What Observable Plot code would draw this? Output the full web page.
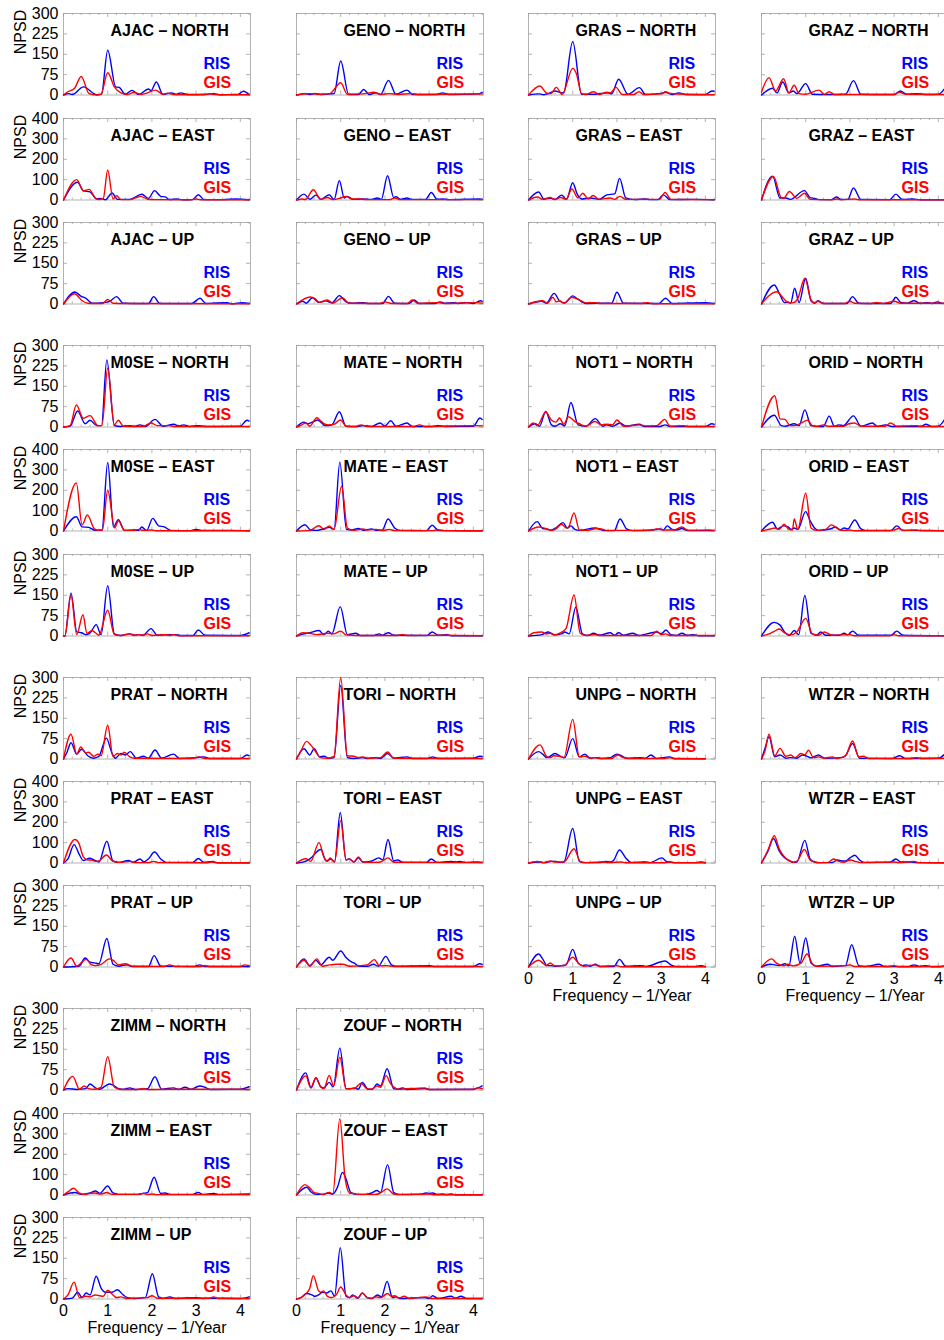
<!DOCTYPE html>
<html><head><meta charset="utf-8">
<script src="https://cdn.jsdelivr.net/npm/d3@7"></script>
<script src="https://cdn.jsdelivr.net/npm/@observablehq/plot@0.6"></script>
<style>
body{margin:0;background:#fff;}
#chart{position:relative;width:944px;height:1340px;overflow:hidden;background:#fff;font-family:'Liberation Sans',Arial,sans-serif;}
#chart svg{position:absolute;}
</style></head><body><div id="chart"></div>
<script>
// ---------- axis / category data ----------
const freqMax = 4.23;
const xMajor = [0, 1, 2, 3, 4];
const xMinor = [0.2, 0.4, 0.6, 0.8, 1.2, 1.4, 1.6, 1.8, 2.2, 2.4, 2.6, 2.8, 3.2, 3.4, 3.6, 3.8, 4.2];
const yTicksNU = [0, 75, 150, 225, 300];
const yTicksEast = [0, 100, 200, 300, 400];
const stationGroups = [["AJAC", "GENO", "GRAS", "GRAZ"], ["M0SE", "MATE", "NOT1", "ORID"], ["PRAT", "TORI", "UNPG", "WTZR"], ["ZIMM", "ZOUF"]];
const components = ["NORTH", "EAST", "UP"];
const seriesNames = ["RIS", "GIS"];
const seriesColors = ["#0000ff", "#ff0000"];

// ---------- spectra: [frequency (1/yr), NPSD] ----------
const AJAC_NORTH_RIS = [[0,0],[0.12,5],[0.2,2],[0.45,30],[0.75,1],[0.86,3],[1.0,165],[1.18,30],[1.26,28],[1.4,3],[1.55,17],[1.7,2],[1.92,22],[1.98,16],[2.1,48],[2.25,2],[2.45,8],[2.55,2],[2.65,8],[2.8,2],[3.25,3],[3.4,5],[3.55,1],[3.85,2],[3.95,2],[4.07,14],[4.2,1]];
const AJAC_NORTH_GIS = [[0,0],[0.1,12],[0.25,25],[0.4,68],[0.58,5],[0.75,0],[0.85,3],[1.0,82],[1.15,30],[1.3,8],[1.45,2],[1.6,10],[1.75,2],[1.9,8],[2.08,18],[2.25,3],[2.35,7],[2.5,2],[3.18,1],[3.3,4],[3.5,1],[4.2,1]];
const AJAC_EAST_RIS = [[0,0],[0.32,87],[0.45,45],[0.6,40],[0.75,5],[0.85,8],[0.95,1],[1.1,34],[1.22,3],[1.5,3],[1.77,28],[1.92,8],[2.06,46],[2.2,18],[2.3,15],[2.4,2],[2.55,5],[2.7,1],[2.92,2],[3.05,26],[3.18,2],[3.6,2],[3.9,5],[4.2,1]];
const AJAC_EAST_GIS = [[0,0],[0.3,100],[0.45,45],[0.58,52],[0.72,10],[0.8,2],[0.9,8],[1.0,147],[1.12,5],[1.2,21],[1.3,2],[1.5,2],[1.75,18],[1.9,4],[2.1,2],[2.88,1],[3.0,5],[3.1,1],[4.2,1]];
const AJAC_UP_RIS = [[0,0],[0.26,44],[0.4,28],[0.5,22],[0.65,3],[0.9,5],[1.05,10],[1.2,27],[1.35,3],[1.8,2],[1.92,2],[2.04,27],[2.18,2],[2.9,2],[3.09,21],[3.22,2],[3.7,5],[3.8,1],[4.05,5],[4.2,2]];
const AJAC_UP_GIS = [[0,0],[0.25,38],[0.42,12],[0.55,3],[0.7,2],[0.88,2],[1.0,17],[1.12,3],[1.4,2],[4.2,1]];

const GENO_NORTH_RIS = [[0,0],[0.2,5],[0.3,2],[0.42,5],[0.55,2],[0.85,5],[1.0,125],[1.18,2],[1.4,2],[1.52,20],[1.65,2],[1.8,8],[1.9,2],[2.08,54],[2.25,3],[2.5,18],[2.62,2],[3.18,2],[3.3,8],[3.45,2],[4.1,4],[4.2,10]];
const GENO_NORTH_GIS = [[0,0],[0.3,5],[0.5,3],[0.75,5],[1.0,45],[1.15,3],[1.5,4],[1.75,10],[1.9,2],[2.1,5],[2.3,2],[2.6,5],[2.75,2],[4.2,4]];
const GENO_EAST_RIS = [[0,0],[0.17,29],[0.3,4],[0.44,24],[0.55,3],[0.74,26],[0.85,3],[0.97,95],[1.08,10],[1.15,18],[1.28,3],[1.5,5],[1.7,3],[1.83,10],[1.92,4],[2.06,119],[2.2,12],[2.25,16],[2.35,4],[2.5,10],[2.6,3],[2.92,3],[3.05,37],[3.18,4],[3.3,5],[3.45,2],[4.15,5],[4.2,3]];
const GENO_EAST_GIS = [[0,0],[0.12,5],[0.2,2],[0.38,50],[0.55,3],[0.7,12],[0.82,2],[1.0,10],[1.12,18],[1.25,5],[1.4,5],[1.6,2],[2.1,2],[2.22,10],[2.35,2],[4.2,2]];
const GENO_UP_RIS = [[0,0],[0.14,10],[0.22,3],[0.36,23],[0.5,6],[0.66,12],[0.8,4],[0.97,31],[1.12,8],[1.25,3],[1.5,5],[1.6,2],[1.95,2],[2.08,28],[2.22,3],[2.54,2],[2.66,15],[2.78,2],[3.13,2],[3.25,8],[3.35,3],[3.55,5],[3.65,2],[3.85,5],[4.0,2],[4.17,12],[4.2,10]];
const GENO_UP_GIS = [[0,0],[0.31,26],[0.42,20],[0.52,6],[0.7,15],[0.82,3],[1.04,23],[1.18,3],[1.88,2],[2.0,8],[2.15,2],[2.5,2],[2.62,15],[2.75,2],[3.2,5],[3.35,2],[4.1,5],[4.2,3]];

const GRAS_NORTH_RIS = [[0,0],[0.25,4],[0.35,1],[0.45,5],[0.6,15],[0.75,8],[0.8,10],[1.0,197],[1.2,3],[1.5,3],[1.8,8],[1.88,4],[2.04,58],[2.25,3],[2.51,27],[2.65,2],[3.0,6],[3.1,10],[3.25,2],[3.4,8],[3.55,2],[4.0,2],[4.15,15],[4.2,14]];
const GRAS_NORTH_GIS = [[0,0],[0.26,33],[0.4,8],[0.5,5],[0.63,28],[0.76,2],[1.0,98],[1.08,80],[1.2,5],[1.3,2],[1.47,12],[1.6,2],[1.77,10],[1.85,8],[1.98,28],[2.12,2],[2.38,2],[2.5,12],[2.6,2],[3.0,4],[3.1,12],[3.2,6],[3.5,3],[4.2,1]];
const GRAS_EAST_RIS = [[0,0],[0.23,39],[0.35,5],[0.5,8],[0.6,3],[0.75,24],[0.86,3],[1.0,85],[1.1,30],[1.2,5],[1.4,10],[1.6,3],[1.77,25],[1.95,30],[2.06,106],[2.2,10],[2.4,2],[2.65,5],[2.75,2],[2.93,2],[3.05,25],[3.2,2],[3.7,3],[4.2,1]];
const GRAS_EAST_GIS = [[0,0],[0.2,15],[0.32,3],[0.49,12],[0.6,2],[0.72,12],[0.85,3],[0.98,54],[1.12,10],[1.23,33],[1.35,5],[1.46,22],[1.6,3],[1.85,10],[1.95,3],[2.07,18],[2.2,3],[2.96,3],[3.09,37],[3.22,3],[4.2,2]];
const GRAS_UP_RIS = [[0,0],[0.3,10],[0.4,3],[0.58,39],[0.7,12],[0.82,4],[1.0,30],[1.1,20],[1.3,2],[1.8,3],[1.88,3],[2.0,43],[2.15,3],[2.95,2],[3.1,21],[3.25,2],[4.0,5],[4.2,2]];
const GRAS_UP_GIS = [[0,0],[0.32,12],[0.43,3],[0.55,25],[0.63,8],[0.7,12],[0.8,3],[0.98,25],[1.15,15],[1.3,4],[1.5,5],[1.6,2],[2.58,2],[2.7,5],[2.8,1],[4.2,1]];

const GRAZ_NORTH_RIS = [[0,0],[0.25,25],[0.35,8],[0.48,48],[0.62,8],[0.72,15],[0.8,5],[1.0,42],[1.15,3],[1.5,2],[1.9,3],[2.08,53],[2.25,3],[2.7,2],[3.0,2],[3.14,15],[3.28,3],[3.5,5],[3.7,2],[4.0,3],[4.2,38]];
const GRAZ_NORTH_GIS = [[0,10],[0.17,64],[0.32,15],[0.5,60],[0.62,8],[0.74,36],[0.85,5],[1.0,3],[1.3,18],[1.42,2],[1.53,12],[1.65,2],[2.5,2],[3.0,2],[3.12,10],[3.25,3],[4.2,2]];
const GRAZ_EAST_RIS = [[0,0],[0.25,117],[0.42,10],[0.55,10],[0.65,3],[0.97,46],[1.1,12],[1.2,8],[1.3,2],[1.58,2],[1.7,15],[1.8,3],[1.95,3],[2.08,59],[2.25,3],[2.9,2],[3.04,29],[3.18,3],[3.42,5],[3.6,1],[4.2,1]];
const GRAZ_EAST_GIS = [[0,0],[0.27,115],[0.45,10],[0.5,8],[0.63,42],[0.8,8],[0.97,33],[1.1,3],[1.6,1],[1.7,5],[1.8,1],[2.1,5],[2.2,1],[4.2,1]];
const GRAZ_UP_RIS = [[0,0],[0.29,70],[0.4,40],[0.52,5],[0.6,8],[0.66,3],[0.75,58],[0.85,5],[1.0,95],[1.12,12],[1.2,3],[1.28,12],[1.4,2],[1.93,2],[2.06,27],[2.2,3],[2.6,2],[2.92,2],[3.04,25],[3.15,6],[3.3,3],[3.45,12],[3.6,2],[3.75,5],[3.85,2],[3.98,8],[4.1,2],[4.2,5]];
const GRAZ_UP_GIS = [[0,0],[0.35,45],[0.5,20],[0.62,4],[0.72,5],[0.82,20],[0.98,95],[1.12,15],[1.2,4],[1.27,10],[1.4,2],[1.88,2],[2.0,10],[2.1,3],[2.48,2],[2.6,5],[2.75,2],[3.0,10],[3.15,3],[4.2,3]];

const M0SE_NORTH_RIS = [[0,0],[0.15,3],[0.32,59],[0.49,12],[0.6,25],[0.75,5],[0.86,5],[0.98,247],[1.15,5],[1.3,2],[1.5,5],[1.6,2],[1.73,8],[1.85,2],[2.07,28],[2.25,3],[2.5,10],[2.6,4],[2.72,8],[2.85,2],[3.05,5],[3.2,2],[4.0,3],[4.15,25],[4.2,22]];
const M0SE_NORTH_GIS = [[0,0],[0.15,5],[0.29,81],[0.45,32],[0.6,42],[0.78,5],[0.87,5],[1.0,216],[1.15,8],[1.24,25],[1.35,3],[1.8,2],[1.98,15],[2.12,5],[2.4,5],[2.5,2],[4.2,2]];
const M0SE_EAST_RIS = [[0,0],[0.29,70],[0.42,20],[0.57,18],[0.72,3],[0.87,5],[1.0,336],[1.13,20],[1.24,56],[1.38,3],[1.6,5],[1.7,3],[1.77,20],[1.88,3],[2.02,62],[2.15,25],[2.28,20],[2.42,3],[2.88,2],[3.0,8],[3.12,3],[3.8,3],[4.2,1]];
const M0SE_EAST_GIS = [[0,0],[0.29,236],[0.42,30],[0.54,79],[0.7,10],[0.8,3],[0.88,5],[1.0,200],[1.16,15],[1.24,50],[1.38,3],[1.58,3],[1.7,8],[1.8,3],[2.0,5],[2.1,1],[4.2,1]];
const M0SE_UP_RIS = [[0,0],[0.03,0],[0.17,158],[0.3,15],[0.41,12],[0.5,5],[0.57,8],[0.62,15],[0.74,42],[0.85,5],[1.0,185],[1.15,8],[1.3,2],[1.5,8],[1.6,3],[1.7,5],[1.8,3],[1.98,27],[2.12,3],[2.5,5],[2.65,2],[2.93,2],[3.05,22],[3.2,3],[4.0,2],[4.2,12]];
const M0SE_UP_GIS = [[0,0],[0.03,0],[0.17,150],[0.3,5],[0.44,78],[0.53,10],[0.64,20],[0.72,12],[0.8,3],[1.0,95],[1.15,5],[1.3,2],[1.5,8],[1.6,2],[1.7,5],[1.8,2],[1.9,8],[2.0,2],[2.3,5],[2.4,2],[2.5,5],[2.6,1],[4.2,1]];

const MATE_NORTH_RIS = [[0,0],[0.17,18],[0.25,12],[0.32,15],[0.48,26],[0.65,5],[0.8,8],[0.97,56],[1.12,3],[1.38,2],[1.5,5],[1.7,2],[1.89,15],[2.0,3],[2.13,23],[2.25,3],[2.5,15],[2.62,2],[3.08,2],[3.2,5],[3.35,2],[4.0,3],[4.15,33],[4.2,28]];
const MATE_NORTH_GIS = [[0,0],[0.12,8],[0.21,15],[0.3,3],[0.46,34],[0.55,22],[0.65,10],[0.72,8],[0.85,10],[1.0,26],[1.12,3],[1.34,2],[1.46,8],[1.6,2],[2.66,2],[2.78,8],[2.9,2],[4.1,5],[4.2,4]];
const MATE_EAST_RIS = [[0,0],[0.19,31],[0.32,5],[0.45,3],[0.6,10],[0.74,18],[0.85,8],[0.98,338],[1.13,8],[1.25,5],[1.4,12],[1.52,4],[1.7,10],[1.8,4],[1.94,4],[2.07,59],[2.22,15],[2.35,3],[2.94,2],[3.07,28],[3.2,4],[3.35,2],[4.2,1]];
const MATE_EAST_GIS = [[0,0],[0.3,3],[0.51,26],[0.62,8],[0.74,25],[0.85,8],[1.02,220],[1.15,15],[1.3,3],[1.5,10],[1.6,5],[1.8,8],[1.95,2],[2.1,8],[2.22,2],[3.08,2],[3.2,5],[3.35,2],[4.2,1]];
const MATE_UP_RIS = [[0,0],[0.1,5],[0.3,12],[0.51,20],[0.62,5],[0.72,18],[0.8,8],[0.99,108],[1.15,5],[1.34,10],[1.45,2],[1.75,2],[1.87,8],[1.95,3],[2.08,12],[2.2,3],[2.95,2],[3.07,15],[3.2,3],[3.4,5],[3.5,1],[4.2,1]];
const MATE_UP_GIS = [[0,0],[0.15,12],[0.3,10],[0.45,5],[0.7,10],[0.85,8],[1.0,18],[1.12,4],[1.4,2],[2.28,2],[2.4,5],[2.5,2],[3.4,3],[4.2,1]];

const NOT1_NORTH_RIS = [[0,0],[0.15,12],[0.25,3],[0.39,57],[0.52,8],[0.6,3],[0.72,12],[0.82,4],[0.96,90],[1.12,8],[1.3,3],[1.51,31],[1.68,3],[1.77,8],[1.9,3],[2.07,15],[2.2,3],[2.51,10],[2.62,2],[2.97,2],[3.09,8],[3.2,2],[4.0,2],[4.15,12],[4.2,10]];
const NOT1_NORTH_GIS = [[0,0],[0.11,15],[0.2,5],[0.39,55],[0.52,25],[0.62,18],[0.7,33],[0.8,10],[0.9,38],[1.05,20],[1.15,12],[1.3,3],[1.5,20],[1.65,8],[1.77,10],[1.9,8],[2.0,26],[2.15,3],[2.51,8],[2.65,4],[2.9,5],[3.08,28],[3.2,3],[3.5,5],[3.6,2],[4.2,2]];
const NOT1_EAST_RIS = [[0,0],[0.2,46],[0.32,12],[0.42,10],[0.5,4],[0.62,15],[0.78,41],[0.88,15],[0.96,25],[1.05,8],[1.15,3],[1.51,15],[1.62,8],[1.75,2],[1.94,2],[2.07,59],[2.22,10],[2.35,2],[2.8,5],[2.98,10],[3.05,5],[3.14,25],[3.25,8],[3.35,5],[3.47,12],[3.6,2],[4.2,2]];
const NOT1_EAST_GIS = [[0,0],[0.23,20],[0.3,18],[0.42,10],[0.52,3],[0.62,10],[0.75,33],[0.85,15],[0.9,18],[1.03,89],[1.15,5],[1.3,3],[1.55,12],[1.65,10],[1.75,3],[2.0,3],[2.78,3],[2.9,10],[3.0,7],[3.1,5],[3.3,5],[3.47,20],[3.6,4],[4.1,5],[4.2,3]];
const NOT1_UP_RIS = [[0,0],[0.3,5],[0.45,15],[0.58,4],[0.75,8],[0.82,15],[0.92,8],[1.07,106],[1.22,8],[1.35,2],[1.47,10],[1.6,3],[1.85,12],[1.95,3],[2.04,12],[2.15,3],[2.36,10],[2.5,2],[2.9,15],[3.0,8],[3.11,22],[3.22,5],[3.35,2],[3.47,10],[3.6,2],[3.73,5],[3.85,1],[4.2,1]];
const NOT1_UP_GIS = [[0,0],[0.12,12],[0.3,15],[0.4,8],[0.49,10],[0.6,4],[0.72,12],[0.85,28],[1.03,151],[1.17,10],[1.3,2],[1.5,5],[1.6,2],[2.78,2],[2.9,18],[3.0,5],[3.1,8],[3.2,2],[4.2,2]];

const ORID_NORTH_RIS = [[0,0],[0.29,43],[0.45,5],[0.55,3],[0.74,12],[0.85,5],[0.98,63],[1.12,5],[1.3,2],[1.4,2],[1.53,40],[1.65,3],[1.74,8],[1.85,5],[2.08,41],[2.25,3],[2.51,15],[2.62,2],[2.8,8],[2.95,2],[3.6,2],[3.72,10],[3.85,2],[4.0,3],[4.2,45]];
const ORID_NORTH_GIS = [[0,0],[0.3,115],[0.42,30],[0.53,28],[0.65,5],[0.75,5],[0.9,15],[1.04,25],[1.15,5],[1.25,2],[1.4,8],[1.5,3],[1.86,3],[1.98,12],[2.1,15],[2.25,3],[2.8,3],[2.92,15],[3.05,3],[3.5,5],[3.6,2],[4.2,2]];
const ORID_EAST_RIS = [[0,0],[0.25,43],[0.36,10],[0.5,25],[0.6,20],[0.67,8],[0.74,15],[0.82,8],[1.0,95],[1.1,50],[1.2,15],[1.3,3],[1.55,10],[1.68,20],[1.78,5],[1.87,15],[1.95,10],[2.11,54],[2.25,10],[2.35,3],[2.93,3],[3.06,25],[3.2,3],[3.8,3],[4.2,1]];
const ORID_EAST_GIS = [[0,0],[0.2,10],[0.3,15],[0.4,8],[0.51,33],[0.62,8],[0.7,5],[0.74,59],[0.82,8],[1.0,185],[1.12,15],[1.25,3],[1.45,8],[1.58,30],[1.72,12],[1.82,3],[2.0,5],[2.1,1],[2.9,1],[3.0,5],[3.1,12],[3.2,3],[3.5,5],[3.6,1],[4.2,1]];
const ORID_UP_RIS = [[0,0],[0.29,50],[0.42,40],[0.52,15],[0.63,3],[0.74,20],[0.84,5],[0.98,149],[1.12,10],[1.25,3],[1.34,15],[1.45,3],[1.76,3],[1.87,10],[1.95,4],[2.06,18],[2.2,3],[2.93,3],[3.06,18],[3.2,3],[4.2,1]];
const ORID_UP_GIS = [[0,0],[0.2,10],[0.3,18],[0.4,26],[0.52,12],[0.65,4],[0.8,15],[1.0,65],[1.15,8],[1.3,3],[1.42,15],[1.5,10],[1.6,3],[2.0,5],[2.1,1],[2.9,1],[3.0,5],[3.1,1],[4.2,1]];

const PRAT_NORTH_RIS = [[0,0],[0.08,25],[0.17,60],[0.3,18],[0.41,36],[0.55,12],[0.68,3],[0.8,10],[0.97,77],[1.1,20],[1.17,3],[1.3,20],[1.4,15],[1.51,27],[1.65,3],[1.81,10],[1.92,3],[2.07,33],[2.22,3],[2.49,18],[2.62,2],[3.0,5],[3.17,8],[3.3,2],[4.0,2],[4.15,15],[4.2,12]];
const PRAT_NORTH_GIS = [[0,0],[0.17,91],[0.3,18],[0.39,44],[0.5,22],[0.57,25],[0.68,10],[0.78,18],[0.85,12],[1.0,124],[1.12,10],[1.22,20],[1.3,15],[1.37,25],[1.5,8],[1.6,3],[2.88,2],[3.0,5],[3.05,8],[3.2,2],[4.2,2]];
const PRAT_EAST_RIS = [[0,0],[0.1,20],[0.24,90],[0.35,45],[0.45,12],[0.59,23],[0.7,14],[0.8,5],[0.98,107],[1.12,10],[1.25,3],[1.47,12],[1.58,3],[1.73,20],[1.82,5],[1.92,20],[2.06,54],[2.2,20],[2.32,3],[2.92,3],[3.05,22],[3.18,3],[3.36,8],[3.5,1],[4.2,1]];
const PRAT_EAST_GIS = [[0,0],[0.26,115],[0.35,95],[0.45,30],[0.55,15],[0.62,15],[0.72,8],[0.8,10],[0.97,39],[1.12,8],[1.25,3],[1.51,8],[1.62,2],[1.92,2],[2.04,8],[2.15,2],[3.25,1],[3.36,5],[3.45,1],[4.2,1]];
const PRAT_UP_RIS = [[0,0],[0.35,3],[0.49,33],[0.6,18],[0.7,15],[0.8,12],[0.98,105],[1.12,10],[1.25,3],[1.42,8],[1.55,2],[1.92,2],[2.05,42],[2.2,3],[2.96,2],[3.08,8],[3.2,2],[4.2,2]];
const PRAT_UP_GIS = [[0,0],[0.17,33],[0.3,3],[0.4,15],[0.51,28],[0.62,10],[0.72,5],[0.85,10],[1.04,30],[1.12,25],[1.25,8],[1.4,12],[1.55,3],[2.28,2],[2.4,8],[2.52,2],[3.1,2],[3.2,5],[3.3,2],[4.0,2],[4.1,8],[4.2,5]];

const TORI_NORTH_RIS = [[0,0],[0.17,38],[0.3,15],[0.4,38],[0.52,8],[0.63,10],[0.72,3],[0.85,5],[1.0,271],[1.15,5],[1.3,2],[1.5,5],[1.6,2],[1.8,5],[1.9,2],[2.06,20],[2.2,3],[2.5,8],[2.62,2],[2.96,2],[3.08,8],[3.2,2],[4.0,3],[4.15,10],[4.2,9]];
const TORI_NORTH_GIS = [[0,0],[0.1,30],[0.23,65],[0.32,52],[0.4,35],[0.55,5],[0.7,3],[0.85,10],[1.0,300],[1.15,12],[1.3,10],[1.4,5],[1.5,8],[1.6,3],[1.9,5],[2.06,26],[2.2,3],[4.2,2]];
const TORI_EAST_RIS = [[0,0],[0.2,8],[0.3,20],[0.55,66],[0.67,10],[0.78,20],[0.86,5],[0.99,248],[1.12,15],[1.19,20],[1.3,5],[1.4,25],[1.5,5],[1.6,5],[1.7,10],[1.86,25],[1.95,15],[2.07,115],[2.2,10],[2.29,15],[2.4,3],[2.93,3],[3.05,20],[3.18,3],[3.5,8],[3.6,5],[3.7,8],[3.8,3],[4.1,5],[4.2,3]];
const TORI_EAST_GIS = [[0,0],[0.21,21],[0.32,8],[0.51,100],[0.62,30],[0.7,8],[0.76,25],[0.86,5],[1.0,208],[1.12,15],[1.2,20],[1.3,5],[1.4,30],[1.5,5],[1.8,3],[1.9,5],[2.07,25],[2.2,4],[4.2,2]];
const TORI_UP_RIS = [[0,0],[0.17,30],[0.3,5],[0.44,25],[0.55,8],[0.74,36],[0.82,25],[1.0,59],[1.12,35],[1.25,18],[1.3,15],[1.42,3],[1.62,3],[1.74,10],[1.85,3],[2.02,39],[2.15,8],[2.25,3],[3.0,5],[3.1,2],[4.0,2],[4.15,12],[4.2,10]];
const TORI_UP_GIS = [[0,0],[0.17,25],[0.3,3],[0.46,30],[0.58,3],[0.75,8],[0.9,10],[1.05,10],[1.2,3],[1.6,8],[1.76,27],[1.88,4],[2.05,5],[2.2,2],[4.2,2]];

const UNPG_NORTH_RIS = [[0,0],[0.23,27],[0.32,18],[0.42,5],[0.6,20],[0.75,8],[0.82,5],[1.0,75],[1.15,8],[1.27,18],[1.4,3],[1.52,5],[1.65,2],[1.85,5],[2.0,18],[2.1,12],[2.22,3],[2.53,5],[2.63,2],[2.77,15],[2.9,2],[3.19,8],[3.3,2],[4.0,1]];
const UNPG_NORTH_GIS = [[0,0],[0.26,52],[0.42,8],[0.5,5],[0.57,12],[0.7,10],[0.8,5],[1.0,146],[1.15,8],[1.27,10],[1.4,3],[1.51,5],[1.6,2],[1.88,2],[2.01,15],[2.15,5],[2.25,2],[3.08,2],[3.2,5],[3.3,1],[4.0,1]];
const UNPG_EAST_RIS = [[0,0],[0.2,5],[0.35,2],[0.52,8],[0.62,8],[0.7,3],[0.8,5],[1.0,169],[1.15,8],[1.3,2],[1.6,2],[1.73,8],[1.85,5],[1.92,12],[2.06,64],[2.2,25],[2.32,3],[2.64,5],[2.75,2],[3.02,25],[3.12,8],[3.2,5],[3.3,2],[3.8,2],[3.9,5],[4.0,1]];
const UNPG_EAST_GIS = [[0,0],[0.2,8],[0.35,2],[0.5,10],[0.6,5],[0.8,5],[1.03,70],[1.18,5],[1.3,2],[1.7,5],[1.8,2],[2.1,5],[2.2,1],[3.08,1],[3.2,5],[3.3,1],[4.0,1]];
const UNPG_UP_RIS = [[0,0],[0.23,48],[0.32,30],[0.42,5],[0.5,5],[0.6,3],[0.75,5],[0.85,8],[1.0,65],[1.12,15],[1.22,5],[1.3,8],[1.4,3],[1.51,10],[1.62,2],[1.93,2],[2.06,28],[2.2,3],[2.53,5],[2.65,2],[3.09,22],[3.22,8],[3.35,2],[3.8,2],[3.9,5],[4.0,1]];
const UNPG_UP_GIS = [[0,0],[0.23,25],[0.32,15],[0.4,5],[0.49,15],[0.6,4],[0.8,5],[1.0,36],[1.15,10],[1.25,3],[1.5,8],[1.62,2],[2.0,5],[2.1,1],[4.0,1]];

const WTZR_NORTH_RIS = [[0,0],[0.08,40],[0.17,82],[0.3,8],[0.42,15],[0.55,3],[0.66,5],[0.8,3],[0.93,15],[1.0,12],[1.12,4],[1.29,15],[1.42,3],[1.8,5],[1.9,12],[2.06,57],[2.22,3],[2.95,2],[3.13,12],[3.25,2],[4.0,3],[4.2,28]];
const WTZR_NORTH_GIS = [[0,0],[0.08,30],[0.17,91],[0.3,12],[0.42,39],[0.55,10],[0.66,15],[0.76,5],[0.89,20],[0.98,15],[1.06,32],[1.18,5],[1.3,8],[1.42,3],[1.6,8],[1.7,2],[1.9,12],[2.06,66],[2.2,8],[2.31,10],[2.42,2],[3.38,2],[3.5,5],[3.6,2],[4.2,3]];
const WTZR_EAST_RIS = [[0,0],[0.15,60],[0.27,120],[0.4,60],[0.5,30],[0.6,15],[0.72,4],[0.8,5],[0.98,111],[1.1,20],[1.2,5],[1.3,2],[1.6,2],[1.72,15],[1.82,10],[1.9,10],[2.0,25],[2.11,38],[2.22,15],[2.32,3],[2.9,3],[3.04,20],[3.15,5],[3.4,5],[3.5,2],[4.2,1]];
const WTZR_EAST_GIS = [[0,0],[0.15,65],[0.29,134],[0.4,70],[0.5,35],[0.6,15],[0.72,4],[0.8,8],[0.97,66],[1.1,15],[1.2,5],[1.3,2],[1.5,3],[1.63,20],[1.72,10],[1.85,3],[2.02,15],[2.12,8],[2.25,2],[3.0,5],[3.1,2],[3.45,8],[3.55,2],[4.2,1]];
const WTZR_UP_RIS = [[0,0],[0.2,10],[0.3,8],[0.4,5],[0.53,12],[0.62,4],[0.75,113],[0.87,15],[1.0,107],[1.12,15],[1.25,3],[1.49,10],[1.6,2],[1.9,5],[2.04,82],[2.2,5],[2.35,2],[2.66,10],[2.78,2],[3.33,2],[3.45,8],[3.58,2],[3.72,5],[3.85,1],[4.05,1],[4.2,8]];
const WTZR_UP_GIS = [[0,0],[0.23,30],[0.33,15],[0.42,8],[0.52,5],[0.6,10],[0.72,4],[0.9,15],[1.03,48],[1.15,12],[1.25,3],[1.9,5],[2.0,8],[2.1,2],[2.88,2],[3.0,5],[3.1,1],[4.2,3]];

const ZIMM_NORTH_RIS = [[0,0],[0.1,5],[0.3,2],[0.5,5],[0.6,22],[0.72,8],[0.82,3],[0.95,15],[1.04,22],[1.12,18],[1.25,5],[1.38,3],[1.5,8],[1.62,2],[1.9,5],[2.07,49],[2.22,3],[2.49,8],[2.6,2],[2.75,10],[2.88,3],[3.08,15],[3.2,10],[3.32,2],[4.0,3],[4.2,12]];
const ZIMM_NORTH_GIS = [[0,0],[0.21,50],[0.36,3],[0.47,15],[0.56,5],[0.7,3],[0.85,10],[1.0,123],[1.15,10],[1.3,2],[1.68,2],[1.8,5],[1.9,2],[3.0,3],[4.2,2]];
const ZIMM_EAST_RIS = [[0,0],[0.26,12],[0.4,3],[0.5,5],[0.6,10],[0.72,20],[0.82,8],[1.0,44],[1.12,10],[1.25,3],[1.68,3],[1.8,8],[1.9,12],[2.05,87],[2.2,8],[2.3,10],[2.4,3],[2.92,3],[3.05,12],[3.15,3],[3.4,8],[3.5,3],[4.2,5]];
const ZIMM_EAST_GIS = [[0,0],[0.1,15],[0.23,33],[0.35,10],[0.45,3],[0.6,8],[0.7,10],[0.85,5],[0.98,12],[1.1,3],[1.68,3],[1.8,8],[1.9,3],[2.0,5],[2.1,2],[4.2,2]];
const ZIMM_UP_RIS = [[0,0],[0.2,3],[0.32,25],[0.42,5],[0.51,22],[0.6,15],[0.74,84],[0.85,40],[0.95,25],[1.1,25],[1.22,34],[1.35,15],[1.45,5],[1.6,2],[1.85,5],[2.01,93],[2.15,8],[2.25,2],[2.41,8],[2.52,2],[3.0,5],[3.15,2],[3.3,3],[4.0,2],[4.2,8]];
const ZIMM_UP_GIS = [[0,0],[0.1,15],[0.24,62],[0.36,5],[0.5,10],[0.6,8],[0.72,15],[0.82,12],[0.9,10],[1.0,32],[1.12,15],[1.2,5],[1.3,8],[1.42,2],[1.9,5],[2.0,12],[2.12,3],[3.3,3],[3.39,8],[3.5,2],[4.2,2]];

const ZOUF_NORTH_RIS = [[0,0],[0.21,63],[0.33,8],[0.44,44],[0.55,12],[0.62,8],[0.74,28],[0.83,12],[0.98,154],[1.12,5],[1.2,4],[1.3,8],[1.4,3],[1.49,28],[1.62,3],[1.72,3],[1.82,22],[1.9,15],[2.05,78],[2.2,5],[2.3,3],[2.4,8],[2.5,2],[2.9,5],[3.0,2],[4.0,3],[4.2,15]];
const ZOUF_NORTH_GIS = [[0,0],[0.21,52],[0.32,8],[0.44,45],[0.55,10],[0.62,5],[0.74,54],[0.84,15],[0.98,121],[1.12,5],[1.3,5],[1.46,25],[1.6,4],[1.7,3],[1.82,15],[1.9,10],[2.03,53],[2.12,25],[2.21,10],[2.3,3],[2.9,8],[3.0,2],[4.0,2],[4.1,8],[4.2,5]];
const ZOUF_EAST_RIS = [[0,0],[0.23,38],[0.33,15],[0.45,3],[0.6,3],[0.72,10],[0.82,5],[0.93,40],[1.04,111],[1.12,80],[1.22,15],[1.35,3],[1.58,3],[1.7,10],[1.82,22],[1.9,12],[2.06,149],[2.2,12],[2.32,3],[2.8,3],[2.93,10],[3.0,8],[3.08,10],[3.18,3],[3.3,5],[3.4,2],[3.5,5],[3.6,1],[4.2,1]];
const ZOUF_EAST_GIS = [[0,0],[0.19,51],[0.3,35],[0.4,12],[0.5,8],[0.6,3],[0.74,12],[0.82,5],[0.98,375],[1.1,80],[1.2,10],[1.3,8],[1.4,3],[1.8,3],[1.9,10],[2.05,30],[2.2,5],[2.35,2],[3.0,5],[3.1,1],[4.2,1]];
const ZOUF_UP_RIS = [[0,0],[0.1,5],[0.23,20],[0.35,15],[0.42,10],[0.5,15],[0.59,25],[0.68,22],[0.78,30],[0.86,10],[0.99,189],[1.12,10],[1.2,5],[1.27,15],[1.38,3],[1.49,22],[1.6,5],[1.7,2],[1.83,15],[1.92,8],[2.05,65],[2.17,5],[2.25,8],[2.35,2],[2.9,5],[3.0,2],[3.08,12],[3.2,2],[3.5,10],[3.6,3],[3.72,10],[3.85,2],[4.2,2]];
const ZOUF_UP_GIS = [[0,0],[0.1,5],[0.22,20],[0.3,40],[0.38,86],[0.5,30],[0.55,25],[0.61,30],[0.7,10],[0.8,5],[0.9,15],[1.0,44],[1.12,15],[1.2,5],[1.3,12],[1.4,4],[1.49,22],[1.6,5],[1.7,3],[1.8,8],[1.9,5],[2.06,20],[2.15,10],[2.22,12],[2.32,4],[2.44,10],[2.55,2],[2.93,8],[3.05,2],[4.2,2]];

// lookup table built from the named arrays
const series = {
  AJAC_NORTH_RIS, AJAC_NORTH_GIS, AJAC_EAST_RIS, AJAC_EAST_GIS, AJAC_UP_RIS, AJAC_UP_GIS,
  GENO_NORTH_RIS, GENO_NORTH_GIS, GENO_EAST_RIS, GENO_EAST_GIS, GENO_UP_RIS, GENO_UP_GIS,
  GRAS_NORTH_RIS, GRAS_NORTH_GIS, GRAS_EAST_RIS, GRAS_EAST_GIS, GRAS_UP_RIS, GRAS_UP_GIS,
  GRAZ_NORTH_RIS, GRAZ_NORTH_GIS, GRAZ_EAST_RIS, GRAZ_EAST_GIS, GRAZ_UP_RIS, GRAZ_UP_GIS,
  M0SE_NORTH_RIS, M0SE_NORTH_GIS, M0SE_EAST_RIS, M0SE_EAST_GIS, M0SE_UP_RIS, M0SE_UP_GIS,
  MATE_NORTH_RIS, MATE_NORTH_GIS, MATE_EAST_RIS, MATE_EAST_GIS, MATE_UP_RIS, MATE_UP_GIS,
  NOT1_NORTH_RIS, NOT1_NORTH_GIS, NOT1_EAST_RIS, NOT1_EAST_GIS, NOT1_UP_RIS, NOT1_UP_GIS,
  ORID_NORTH_RIS, ORID_NORTH_GIS, ORID_EAST_RIS, ORID_EAST_GIS, ORID_UP_RIS, ORID_UP_GIS,
  PRAT_NORTH_RIS, PRAT_NORTH_GIS, PRAT_EAST_RIS, PRAT_EAST_GIS, PRAT_UP_RIS, PRAT_UP_GIS,
  TORI_NORTH_RIS, TORI_NORTH_GIS, TORI_EAST_RIS, TORI_EAST_GIS, TORI_UP_RIS, TORI_UP_GIS,
  UNPG_NORTH_RIS, UNPG_NORTH_GIS, UNPG_EAST_RIS, UNPG_EAST_GIS, UNPG_UP_RIS, UNPG_UP_GIS,
  WTZR_NORTH_RIS, WTZR_NORTH_GIS, WTZR_EAST_RIS, WTZR_EAST_GIS, WTZR_UP_RIS, WTZR_UP_GIS,
  ZIMM_NORTH_RIS, ZIMM_NORTH_GIS, ZIMM_EAST_RIS, ZIMM_EAST_GIS, ZIMM_UP_RIS, ZIMM_UP_GIS,
  ZOUF_NORTH_RIS, ZOUF_NORTH_GIS, ZOUF_EAST_RIS, ZOUF_EAST_GIS, ZOUF_UP_RIS, ZOUF_UP_GIS
};

// ---------- layout ----------
const FRAME_W = 187, FRAME_H = 81.5;
const ML = 63, MR = 12, MT = 10, MB = 50;
const COL0 = 63, COL_STEP = 232.6;
const TOP0 = 13.3, GROUP_STEP = 331.7, ROW_STEP = 104.3;
const FONT = "'Liberation Sans', Arial, Helvetica, sans-serif";
const frameGrey = "#a0a0a0";

const chart = document.getElementById("chart");

function makePanel(station, comp, c, g, r) {
  const isEast = comp === "EAST";
  const ymax = isEast ? 400 : 300;
  const yTicks = isEast ? yTicksEast : yTicksNU;
  const showY = c === 0;
  const showX = (g === 3 && r === 2) || (g === 2 && r === 2 && c >= 2);
  const marks = [
    Plot.frame({stroke: frameGrey, strokeWidth: 0.8}),
    Plot.ruleX(xMajor, {x: d => d, insetTop: FRAME_H - 4, stroke: frameGrey, strokeWidth: 0.8}),
    Plot.ruleX(xMajor, {x: d => d, insetBottom: FRAME_H - 4, stroke: frameGrey, strokeWidth: 0.8}),
    Plot.ruleX(xMinor, {x: d => d, insetTop: FRAME_H - 2, stroke: frameGrey, strokeWidth: 0.8}),
    Plot.ruleX(xMinor, {x: d => d, insetBottom: FRAME_H - 2, stroke: frameGrey, strokeWidth: 0.8}),
    Plot.ruleY(yTicks, {y: d => d, insetRight: FRAME_W - 4, stroke: frameGrey, strokeWidth: 0.8}),
    Plot.ruleY(yTicks, {y: d => d, insetLeft: FRAME_W - 4, stroke: frameGrey, strokeWidth: 0.8})
  ];
  seriesNames.forEach((s, i) => {
    marks.push(Plot.line(series[`${station}_${comp}_${s}`], {
      x: d => d[0], y: d => d[1], curve: "monotone-x",
      stroke: seriesColors[i], strokeWidth: 1.4
    }));
  });
  marks.push(Plot.text([`${station} \u2013 ${comp}`], {
    frameAnchor: "top-left", dx: 47, dy: 22.4, lineAnchor: "bottom", textAnchor: "start",
    fontSize: 16, fontWeight: "bold", fill: "#000"
  }));
  seriesNames.forEach((s, i) => {
    marks.push(Plot.text([s], {
      frameAnchor: "top-left", dx: 140, dy: 55.7 + 19 * i, lineAnchor: "bottom", textAnchor: "start",
      fontSize: 16, fontWeight: "bold", fill: seriesColors[i]
    }));
  });
  if (showY) {
    marks.push(Plot.text(yTicks, {
      y: d => d, frameAnchor: "left", dx: -5, textAnchor: "end", lineAnchor: "middle",
      fontSize: 16, fill: "#000"
    }));
    marks.push(Plot.text(["NPSD"], {
      frameAnchor: "left", dx: -42.3, rotate: -90, lineAnchor: "middle",
      fontSize: 16, fill: "#000"
    }));
  }
  if (showX) {
    marks.push(Plot.text(xMajor, {
      x: d => d, frameAnchor: "bottom", dy: 6, lineAnchor: "top", textAnchor: "middle",
      fontSize: 16, fill: "#000"
    }));
    marks.push(Plot.text(["Frequency \u2013 1/Year"], {
      frameAnchor: "bottom", dy: 34, lineAnchor: "bottom", textAnchor: "middle",
      fontSize: 16, fill: "#000"
    }));
  }
  const svg = Plot.plot({
    width: ML + FRAME_W + MR,
    height: MT + FRAME_H + MB,
    marginLeft: ML, marginRight: MR, marginTop: MT, marginBottom: MB,
    x: {domain: [0, freqMax], axis: null},
    y: {domain: [0, ymax], axis: null},
    style: {background: "transparent", overflow: "visible", fontFamily: FONT, fontSize: "16px"},
    marks
  });
  const left = COL0 + c * COL_STEP - ML;
  const top = TOP0 + g * GROUP_STEP + r * ROW_STEP - MT;
  svg.style.left = left + "px";
  svg.style.top = top + "px";
  svg.style.maxWidth = "none";
  chart.appendChild(svg);
}

stationGroups.forEach((group, g) => {
  group.forEach((station, c) => {
    components.forEach((comp, r) => makePanel(station, comp, c, g, r));
  });
});
</script>
</body></html>
